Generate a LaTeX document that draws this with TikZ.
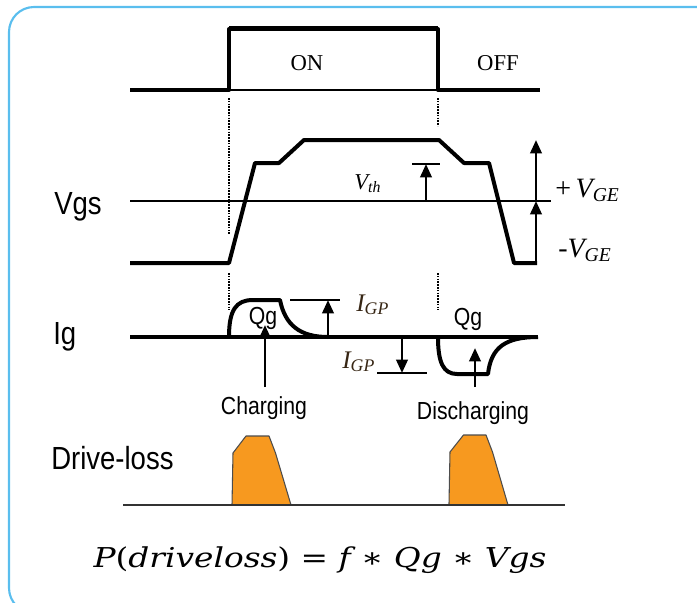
\documentclass[tikz,border=0pt]{standalone}
\usepackage{fontspec}
\setmainfont{Liberation Sans}
\newfontfamily\narrowsf[FakeStretch=0.86]{Liberation Sans}
\newfontfamily\timesfont{Liberation Serif}
\newfontfamily\formfont{DejaVu Serif}
\usetikzlibrary{arrows.meta}
\definecolor{framebl}{RGB}{90,190,238}
\definecolor{lossorange}{RGB}{247,153,31}
\definecolor{igpbrown}{RGB}{55,38,20}

\begin{document}
\begin{tikzpicture}[x=0.75pt,y=-0.75pt,
    wave/.style={line width=3pt, line join=round},
    thinl/.style={line width=1.1pt},
    marker/.style={line width=1.1pt, dash pattern=on 1.2pt off 0.9pt},
    arr/.style={line width=2pt, -{Triangle[length=10pt,width=8.5pt]}},
    bar/.style={line width=2pt},
    lbl/.style={font=\narrowsf\fontsize{24}{26}\selectfont, anchor=base west, inner sep=0pt},
    sm/.style={font=\narrowsf\fontsize{18.5}{20}\selectfont, anchor=base, inner sep=0pt},
    ser/.style={font=\timesfont\fontsize{17}{19}\selectfont, anchor=base, inner sep=0pt},
    ital/.style={font=\timesfont\itshape\fontsize{19}{21}\selectfont, anchor=base west, inner sep=0pt},
    loss/.style={draw=black!70, line width=0.8pt, line join=round}
]
\useasboundingbox (0,0) rectangle (697,603);
\begin{scope}
\clip (0,0) rectangle (697,603);
\draw[framebl, line width=1.6pt, rounded corners=18.75pt] (9,7) rectangle (740,613);
\end{scope}

% gate signal
\draw[thinl] (229,90) -- (438,90);
\draw[wave] (130,90) -- (229,90) -- (229,29) -- (438,29) -- (438,90) -- (540,90);
\draw[line width=4pt] (229,28.5) -- (438,28.5);
\node[ser] (on) at (307,70) {ON};
\node[ser] (off) at (498,70) {OFF};

\draw[marker] (229,98) -- (229,235);
\draw[marker] (438,98) -- (438,126);
\draw[marker] (229,273) -- (229,310);
\draw[marker] (438,273) -- (438,310);

% Vgs
\node[lbl] (vgs) at (54,214) {Vgs};
\draw[thinl] (130,201) -- (551,201);
\draw[wave] (130,263) -- (229,263) -- (255,163) -- (279,163) -- (304,140) -- (439,140)
    -- (464,163) -- (489,163) -- (514,263) -- (537,263);
\coordinate (thtop) at (426,164);
\draw[bar] (412,164) -- (440,164);
\draw[arr] (426,201) -- (thtop);
\node[ital, font=\timesfont\itshape\fontsize{17}{19}\selectfont] (vth) at (354,189) {V\textsubscript{th}};
\coordinate (vlow) at (536,263);
\coordinate (vmid) at (536,201);
\coordinate (vtop) at (536,140);
\draw[arr] (vlow) -- (vmid);
\draw[arr] (vmid) -- (vtop);
\node[ital, font=\timesfont\itshape\fontsize{21}{23}\selectfont] (vpos) at (555,197) {\upshape+\,\itshape V\textsubscript{GE}};
\node[ital, font=\timesfont\itshape\fontsize{21}{23}\selectfont] (vneg) at (558,257) {-V\textsubscript{GE}};

% Ig
\node[lbl] (ig) at (53,344) {Ig};
\draw[wave] (130,337) -- (538,337);
\draw[wave] (229,337) .. controls (229,310) and (236,300) .. (253,300) -- (280,300)
    .. controls (285,325) and (300,337) .. (328,337);
\draw[wave] (438,337) .. controls (438,362) and (443,374) .. (457,374) -- (488,374)
    .. controls (491,347) and (506,337) .. (538,337);
\draw[bar] (290,300) -- (340,300);
\draw[arr] (328,337) -- (328,300);
\draw[bar] (377,373) -- (427,373);
\draw[arr] (402,337) -- (402,373);
\node[ital, text=igpbrown] (igpu) at (356,311) {I\textsubscript{GP}};
\node[ital, text=igpbrown] (igpl) at (342,368) {I\textsubscript{GP}};
\node[sm] (qgc) at (263,324) {Qg};
\node[sm] (qgd) at (468,325) {Qg};
\node[sm] (chg) at (264,414) {Charging};
\node[sm] (dis) at (473,419) {Discharging};
\draw[arr] (265,387) -- (265,325);
\draw[arr] (475,387) -- (475,348);

% drive loss
\node[lbl] (dl) at (51,469) {Drive-loss};
\fill[lossorange] (232,505) -- (233,453) -- (246,436) -- (269,436) -- (275.5,453) -- (291,505) -- cycle;
\draw[loss] (232,505) -- (233,453) -- (246,436) -- (269,436) -- (275.5,453) -- (291,505);
\fill[lossorange] (449,504) -- (450,452) -- (463.5,435) -- (486,435) -- (492.5,452) -- (508,505) -- cycle;
\draw[loss] (449,504) -- (450,452) -- (463.5,435) -- (486,435) -- (492.5,452) -- (508,505);
\draw[thinl, black!80] (123,505) -- (565,505);

\node[anchor=base, inner sep=0pt] (ploss) at (320,567)
    {\scalebox{1.2}[1]{\formfont\fontsize{20.5}{23}\selectfont\itshape P\upshape(\itshape driveloss\upshape) = \itshape f \upshape∗ \itshape Qg \upshape∗ \itshape Vgs}};
\end{tikzpicture}
\end{document}
